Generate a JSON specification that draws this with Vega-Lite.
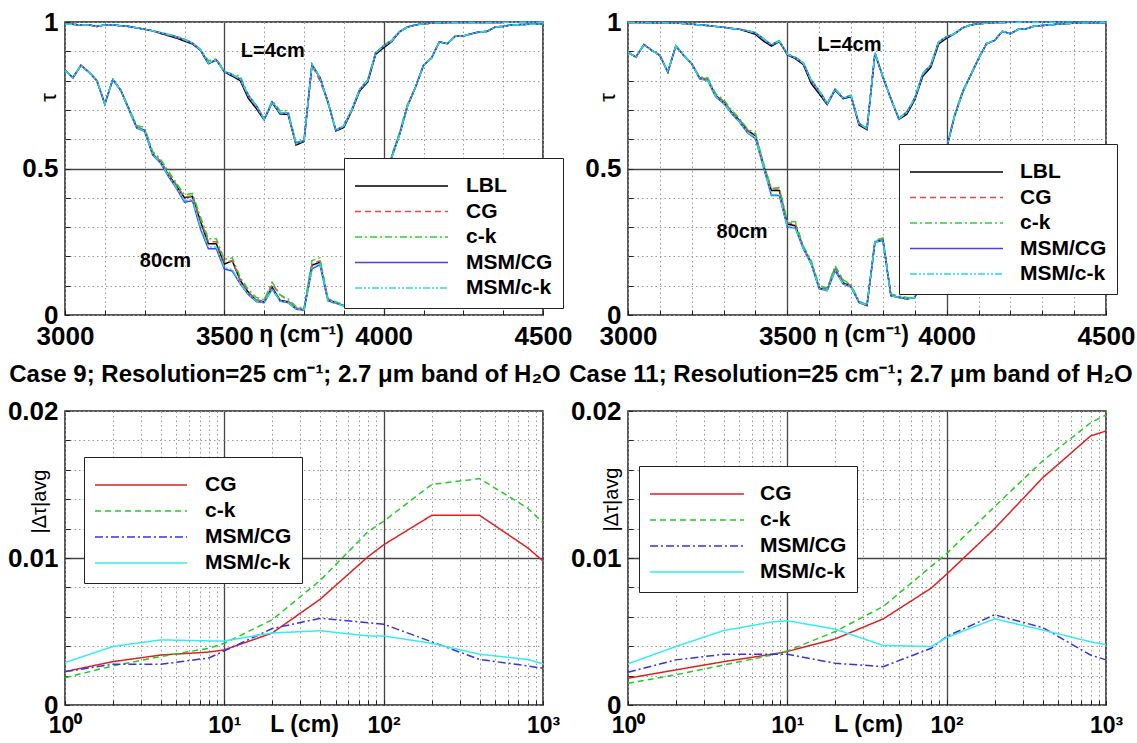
{
"$schema": "https://vega.github.io/schema/vega-lite/v6.json",
"padding": {"left": 6, "top": 8, "right": 0, "bottom": 0},
"background": "white",
"config": {
  "font": "Liberation Sans",
  "view": {"stroke": "#222", "strokeWidth": 1.5},
  "axis": {"domain": false, "grid": true, "labelFont": "Liberation Sans", "labelFontWeight": "bold", "labelFontSize": 26, "labelColor": "black", "labelOverlap": false, "labelFlush": false, "labelBound": false, "tickColor": "#222", "tickSize": -5, "tickWidth": 1, "titleFont": "Liberation Sans", "titleColor": "black", "titleFontSize": 23, "titleFontWeight": "bold", "titlePadding": 0},
  "legend": {"labelFont": "Liberation Sans", "labelFontWeight": "bold", "labelFontSize": 21, "labelColor": "black", "titleFontSize": 8, "titlePadding": 0},
  "title": {"font": "Liberation Sans", "color": "black"}
},
"datasets": {
"ann": [
{"p":"TL","x":3652,"tau":0.901,"t":"L=4cm"},
{"p":"TL","x":3315,"tau":0.184,"t":"80cm"},
{"p":"TR","x":3695,"tau":0.923,"t":"L=4cm"},
{"p":"TR","x":3358,"tau":0.282,"t":"80cm"}
],
"bot": [
{"p":"BL","L":1,"CG":0.00227,"c-k":0.00186,"MSM/CG":0.00227,"MSM/c-k":0.00289},
{"p":"BL","L":2,"CG":0.00295,"c-k":0.00266,"MSM/CG":0.00277,"MSM/c-k":0.00398},
{"p":"BL","L":4,"CG":0.0034,"c-k":0.0033,"MSM/CG":0.00277,"MSM/c-k":0.00443},
{"p":"BL","L":8,"CG":0.0036,"c-k":0.00386,"MSM/CG":0.0032,"MSM/c-k":0.00436},
{"p":"BL","L":10,"CG":0.00375,"c-k":0.0042,"MSM/CG":0.00368,"MSM/c-k":0.00436},
{"p":"BL","L":20,"CG":0.0049,"c-k":0.0058,"MSM/CG":0.0052,"MSM/c-k":0.0049},
{"p":"BL","L":40,"CG":0.0072,"c-k":0.00848,"MSM/CG":0.0059,"MSM/c-k":0.00505},
{"p":"BL","L":80,"CG":0.0101,"c-k":0.0118,"MSM/CG":0.0056,"MSM/c-k":0.0047},
{"p":"BL","L":100,"CG":0.0109,"c-k":0.0125,"MSM/CG":0.0055,"MSM/c-k":0.0047},
{"p":"BL","L":200,"CG":0.0129,"c-k":0.015,"MSM/CG":0.0043,"MSM/c-k":0.0042},
{"p":"BL","L":400,"CG":0.0129,"c-k":0.0154,"MSM/CG":0.0031,"MSM/c-k":0.00345},
{"p":"BL","L":800,"CG":0.0107,"c-k":0.0134,"MSM/CG":0.00266,"MSM/c-k":0.0031},
{"p":"BL","L":1000,"CG":0.0098,"c-k":0.0124,"MSM/CG":0.0025,"MSM/c-k":0.0028},
{"p":"BR","L":1,"CG":0.00182,"c-k":0.00148,"MSM/CG":0.00223,"MSM/c-k":0.0028},
{"p":"BR","L":2,"CG":0.00239,"c-k":0.00205,"MSM/CG":0.00307,"MSM/c-k":0.00398},
{"p":"BR","L":4,"CG":0.00295,"c-k":0.00273,"MSM/CG":0.00345,"MSM/c-k":0.00507},
{"p":"BR","L":8,"CG":0.00345,"c-k":0.0034,"MSM/CG":0.00345,"MSM/c-k":0.00565},
{"p":"BR","L":10,"CG":0.00364,"c-k":0.00368,"MSM/CG":0.00345,"MSM/c-k":0.00573},
{"p":"BR","L":20,"CG":0.0045,"c-k":0.005,"MSM/CG":0.00284,"MSM/c-k":0.00516},
{"p":"BR","L":40,"CG":0.00586,"c-k":0.0067,"MSM/CG":0.00261,"MSM/c-k":0.00405},
{"p":"BR","L":80,"CG":0.00795,"c-k":0.00943,"MSM/CG":0.00386,"MSM/c-k":0.00398},
{"p":"BR","L":100,"CG":0.0089,"c-k":0.0103,"MSM/CG":0.00466,"MSM/c-k":0.00459},
{"p":"BR","L":200,"CG":0.012,"c-k":0.0135,"MSM/CG":0.00614,"MSM/c-k":0.00586},
{"p":"BR","L":400,"CG":0.01545,"c-k":0.0166,"MSM/CG":0.00527,"MSM/c-k":0.0051},
{"p":"BR","L":800,"CG":0.0183,"c-k":0.0192,"MSM/CG":0.0034,"MSM/c-k":0.0043},
{"p":"BR","L":1000,"CG":0.01864,"c-k":0.01973,"MSM/CG":0.00307,"MSM/c-k":0.0041}
],
"top": [
{"p":"TL","c":"4","x":3000,"LBL":0.992,"CG":0.992,"c-k":0.993,"MSM/CG":0.992,"MSM/c-k":0.992},
{"p":"TL","c":"4","x":3025,"LBL":0.992,"CG":0.992,"c-k":0.992,"MSM/CG":0.992,"MSM/c-k":0.992},
{"p":"TL","c":"4","x":3050,"LBL":0.99,"CG":0.99,"c-k":0.99,"MSM/CG":0.99,"MSM/c-k":0.99},
{"p":"TL","c":"4","x":3075,"LBL":0.99,"CG":0.99,"c-k":0.99,"MSM/CG":0.99,"MSM/c-k":0.99},
{"p":"TL","c":"4","x":3100,"LBL":0.985,"CG":0.985,"c-k":0.985,"MSM/CG":0.985,"MSM/c-k":0.985},
{"p":"TL","c":"4","x":3125,"LBL":0.99,"CG":0.99,"c-k":0.99,"MSM/CG":0.99,"MSM/c-k":0.99},
{"p":"TL","c":"4","x":3150,"LBL":0.99,"CG":0.99,"c-k":0.99,"MSM/CG":0.99,"MSM/c-k":0.99},
{"p":"TL","c":"4","x":3175,"LBL":0.987,"CG":0.987,"c-k":0.987,"MSM/CG":0.987,"MSM/c-k":0.987},
{"p":"TL","c":"4","x":3200,"LBL":0.985,"CG":0.985,"c-k":0.985,"MSM/CG":0.985,"MSM/c-k":0.985},
{"p":"TL","c":"4","x":3225,"LBL":0.98,"CG":0.98,"c-k":0.98,"MSM/CG":0.98,"MSM/c-k":0.98},
{"p":"TL","c":"4","x":3250,"LBL":0.975,"CG":0.975,"c-k":0.975,"MSM/CG":0.975,"MSM/c-k":0.975},
{"p":"TL","c":"4","x":3275,"LBL":0.97,"CG":0.97,"c-k":0.97,"MSM/CG":0.97,"MSM/c-k":0.97},
{"p":"TL","c":"4","x":3300,"LBL":0.961,"CG":0.962,"c-k":0.964,"MSM/CG":0.963,"MSM/c-k":0.963},
{"p":"TL","c":"4","x":3325,"LBL":0.953,"CG":0.955,"c-k":0.958,"MSM/CG":0.957,"MSM/c-k":0.957},
{"p":"TL","c":"4","x":3350,"LBL":0.945,"CG":0.948,"c-k":0.951,"MSM/CG":0.95,"MSM/c-k":0.95},
{"p":"TL","c":"4","x":3375,"LBL":0.935,"CG":0.938,"c-k":0.941,"MSM/CG":0.94,"MSM/c-k":0.94},
{"p":"TL","c":"4","x":3400,"LBL":0.925,"CG":0.927,"c-k":0.929,"MSM/CG":0.928,"MSM/c-k":0.928},
{"p":"TL","c":"4","x":3425,"LBL":0.903,"CG":0.905,"c-k":0.907,"MSM/CG":0.905,"MSM/c-k":0.905},
{"p":"TL","c":"4","x":3450,"LBL":0.858,"CG":0.862,"c-k":0.868,"MSM/CG":0.86,"MSM/c-k":0.86},
{"p":"TL","c":"4","x":3475,"LBL":0.87,"CG":0.871,"c-k":0.874,"MSM/CG":0.871,"MSM/c-k":0.871},
{"p":"TL","c":"4","x":3500,"LBL":0.83,"CG":0.831,"c-k":0.833,"MSM/CG":0.831,"MSM/c-k":0.831},
{"p":"TL","c":"4","x":3525,"LBL":0.815,"CG":0.819,"c-k":0.822,"MSM/CG":0.82,"MSM/c-k":0.82},
{"p":"TL","c":"4","x":3550,"LBL":0.8,"CG":0.805,"c-k":0.815,"MSM/CG":0.805,"MSM/c-k":0.805},
{"p":"TL","c":"4","x":3575,"LBL":0.74,"CG":0.748,"c-k":0.752,"MSM/CG":0.75,"MSM/c-k":0.75},
{"p":"TL","c":"4","x":3600,"LBL":0.705,"CG":0.712,"c-k":0.717,"MSM/CG":0.715,"MSM/c-k":0.715},
{"p":"TL","c":"4","x":3625,"LBL":0.666,"CG":0.668,"c-k":0.67,"MSM/CG":0.668,"MSM/c-k":0.668},
{"p":"TL","c":"4","x":3650,"LBL":0.725,"CG":0.727,"c-k":0.732,"MSM/CG":0.727,"MSM/c-k":0.727},
{"p":"TL","c":"4","x":3675,"LBL":0.686,"CG":0.69,"c-k":0.697,"MSM/CG":0.69,"MSM/c-k":0.69},
{"p":"TL","c":"4","x":3700,"LBL":0.685,"CG":0.688,"c-k":0.697,"MSM/CG":0.688,"MSM/c-k":0.688},
{"p":"TL","c":"4","x":3725,"LBL":0.58,"CG":0.585,"c-k":0.588,"MSM/CG":0.585,"MSM/c-k":0.585},
{"p":"TL","c":"4","x":3750,"LBL":0.592,"CG":0.595,"c-k":0.598,"MSM/CG":0.595,"MSM/c-k":0.595},
{"p":"TL","c":"4","x":3775,"LBL":0.853,"CG":0.852,"c-k":0.857,"MSM/CG":0.855,"MSM/c-k":0.855},
{"p":"TL","c":"4","x":3800,"LBL":0.81,"CG":0.8,"c-k":0.812,"MSM/CG":0.81,"MSM/c-k":0.81},
{"p":"TL","c":"4","x":3825,"LBL":0.727,"CG":0.725,"c-k":0.73,"MSM/CG":0.727,"MSM/c-k":0.727},
{"p":"TL","c":"4","x":3850,"LBL":0.628,"CG":0.63,"c-k":0.632,"MSM/CG":0.63,"MSM/c-k":0.63},
{"p":"TL","c":"4","x":3875,"LBL":0.64,"CG":0.645,"c-k":0.647,"MSM/CG":0.645,"MSM/c-k":0.645},
{"p":"TL","c":"4","x":3900,"LBL":0.697,"CG":0.7,"c-k":0.702,"MSM/CG":0.7,"MSM/c-k":0.7},
{"p":"TL","c":"4","x":3925,"LBL":0.765,"CG":0.77,"c-k":0.772,"MSM/CG":0.77,"MSM/c-k":0.77},
{"p":"TL","c":"4","x":3950,"LBL":0.795,"CG":0.8,"c-k":0.803,"MSM/CG":0.8,"MSM/c-k":0.8},
{"p":"TL","c":"4","x":3975,"LBL":0.89,"CG":0.895,"c-k":0.897,"MSM/CG":0.895,"MSM/c-k":0.895},
{"p":"TL","c":"4","x":4000,"LBL":0.912,"CG":0.918,"c-k":0.92,"MSM/CG":0.918,"MSM/c-k":0.918},
{"p":"TL","c":"4","x":4025,"LBL":0.933,"CG":0.94,"c-k":0.937,"MSM/CG":0.935,"MSM/c-k":0.935},
{"p":"TL","c":"4","x":4050,"LBL":0.967,"CG":0.967,"c-k":0.967,"MSM/CG":0.967,"MSM/c-k":0.967},
{"p":"TL","c":"4","x":4075,"LBL":0.983,"CG":0.983,"c-k":0.983,"MSM/CG":0.983,"MSM/c-k":0.983},
{"p":"TL","c":"4","x":4100,"LBL":0.99,"CG":0.99,"c-k":0.99,"MSM/CG":0.99,"MSM/c-k":0.99},
{"p":"TL","c":"4","x":4125,"LBL":0.994,"CG":0.994,"c-k":0.994,"MSM/CG":0.994,"MSM/c-k":0.994},
{"p":"TL","c":"4","x":4150,"LBL":0.996,"CG":0.996,"c-k":0.996,"MSM/CG":0.996,"MSM/c-k":0.996},
{"p":"TL","c":"4","x":4200,"LBL":0.998,"CG":0.998,"c-k":0.998,"MSM/CG":0.998,"MSM/c-k":0.998},
{"p":"TL","c":"4","x":4300,"LBL":0.998,"CG":0.998,"c-k":0.998,"MSM/CG":0.998,"MSM/c-k":0.998},
{"p":"TL","c":"4","x":4400,"LBL":0.999,"CG":0.999,"c-k":0.999,"MSM/CG":0.999,"MSM/c-k":0.999},
{"p":"TL","c":"4","x":4500,"LBL":0.999,"CG":0.999,"c-k":0.999,"MSM/CG":0.999,"MSM/c-k":0.999},
{"p":"TL","c":"80","x":3000,"LBL":0.835,"CG":0.835,"c-k":0.835,"MSM/CG":0.835,"MSM/c-k":0.835},
{"p":"TL","c":"80","x":3025,"LBL":0.81,"CG":0.81,"c-k":0.81,"MSM/CG":0.81,"MSM/c-k":0.81},
{"p":"TL","c":"80","x":3050,"LBL":0.852,"CG":0.852,"c-k":0.852,"MSM/CG":0.852,"MSM/c-k":0.852},
{"p":"TL","c":"80","x":3075,"LBL":0.829,"CG":0.829,"c-k":0.829,"MSM/CG":0.829,"MSM/c-k":0.829},
{"p":"TL","c":"80","x":3100,"LBL":0.8,"CG":0.8,"c-k":0.8,"MSM/CG":0.8,"MSM/c-k":0.8},
{"p":"TL","c":"80","x":3125,"LBL":0.72,"CG":0.72,"c-k":0.72,"MSM/CG":0.72,"MSM/c-k":0.72},
{"p":"TL","c":"80","x":3150,"LBL":0.804,"CG":0.804,"c-k":0.804,"MSM/CG":0.804,"MSM/c-k":0.804},
{"p":"TL","c":"80","x":3175,"LBL":0.767,"CG":0.767,"c-k":0.767,"MSM/CG":0.767,"MSM/c-k":0.767},
{"p":"TL","c":"80","x":3200,"LBL":0.704,"CG":0.706,"c-k":0.708,"MSM/CG":0.702,"MSM/c-k":0.703},
{"p":"TL","c":"80","x":3225,"LBL":0.641,"CG":0.643,"c-k":0.647,"MSM/CG":0.638,"MSM/c-k":0.64},
{"p":"TL","c":"80","x":3250,"LBL":0.63,"CG":0.632,"c-k":0.64,"MSM/CG":0.627,"MSM/c-k":0.628},
{"p":"TL","c":"80","x":3275,"LBL":0.55,"CG":0.553,"c-k":0.558,"MSM/CG":0.546,"MSM/c-k":0.548},
{"p":"TL","c":"80","x":3300,"LBL":0.522,"CG":0.525,"c-k":0.532,"MSM/CG":0.518,"MSM/c-k":0.52},
{"p":"TL","c":"80","x":3325,"LBL":0.478,"CG":0.482,"c-k":0.49,"MSM/CG":0.472,"MSM/c-k":0.475},
{"p":"TL","c":"80","x":3350,"LBL":0.44,"CG":0.444,"c-k":0.45,"MSM/CG":0.432,"MSM/c-k":0.435},
{"p":"TL","c":"80","x":3375,"LBL":0.4,"CG":0.402,"c-k":0.41,"MSM/CG":0.385,"MSM/c-k":0.39},
{"p":"TL","c":"80","x":3400,"LBL":0.405,"CG":0.407,"c-k":0.415,"MSM/CG":0.39,"MSM/c-k":0.395},
{"p":"TL","c":"80","x":3425,"LBL":0.32,"CG":0.325,"c-k":0.335,"MSM/CG":0.294,"MSM/c-k":0.3},
{"p":"TL","c":"80","x":3450,"LBL":0.243,"CG":0.25,"c-k":0.26,"MSM/CG":0.226,"MSM/c-k":0.232},
{"p":"TL","c":"80","x":3475,"LBL":0.243,"CG":0.25,"c-k":0.26,"MSM/CG":0.226,"MSM/c-k":0.232},
{"p":"TL","c":"80","x":3500,"LBL":0.174,"CG":0.18,"c-k":0.19,"MSM/CG":0.157,"MSM/c-k":0.162},
{"p":"TL","c":"80","x":3525,"LBL":0.185,"CG":0.185,"c-k":0.195,"MSM/CG":0.15,"MSM/c-k":0.155},
{"p":"TL","c":"80","x":3550,"LBL":0.118,"CG":0.12,"c-k":0.128,"MSM/CG":0.106,"MSM/c-k":0.108},
{"p":"TL","c":"80","x":3575,"LBL":0.078,"CG":0.08,"c-k":0.088,"MSM/CG":0.07,"MSM/c-k":0.072},
{"p":"TL","c":"80","x":3600,"LBL":0.05,"CG":0.052,"c-k":0.06,"MSM/CG":0.046,"MSM/c-k":0.048},
{"p":"TL","c":"80","x":3625,"LBL":0.045,"CG":0.047,"c-k":0.052,"MSM/CG":0.042,"MSM/c-k":0.043},
{"p":"TL","c":"80","x":3650,"LBL":0.095,"CG":0.105,"c-k":0.112,"MSM/CG":0.089,"MSM/c-k":0.09},
{"p":"TL","c":"80","x":3675,"LBL":0.05,"CG":0.07,"c-k":0.068,"MSM/CG":0.047,"MSM/c-k":0.048},
{"p":"TL","c":"80","x":3700,"LBL":0.045,"CG":0.048,"c-k":0.055,"MSM/CG":0.042,"MSM/c-k":0.043},
{"p":"TL","c":"80","x":3725,"LBL":0.022,"CG":0.024,"c-k":0.03,"MSM/CG":0.02,"MSM/c-k":0.02},
{"p":"TL","c":"80","x":3750,"LBL":0.018,"CG":0.019,"c-k":0.022,"MSM/CG":0.016,"MSM/c-k":0.017},
{"p":"TL","c":"80","x":3775,"LBL":0.17,"CG":0.175,"c-k":0.186,"MSM/CG":0.157,"MSM/c-k":0.16},
{"p":"TL","c":"80","x":3800,"LBL":0.18,"CG":0.185,"c-k":0.195,"MSM/CG":0.172,"MSM/c-k":0.175},
{"p":"TL","c":"80","x":3825,"LBL":0.052,"CG":0.056,"c-k":0.056,"MSM/CG":0.048,"MSM/c-k":0.05},
{"p":"TL","c":"80","x":3850,"LBL":0.042,"CG":0.043,"c-k":0.045,"MSM/CG":0.04,"MSM/c-k":0.041},
{"p":"TL","c":"80","x":3875,"LBL":0.032,"CG":0.033,"c-k":0.035,"MSM/CG":0.031,"MSM/c-k":0.031},
{"p":"TL","c":"80","x":3900,"LBL":0.03,"CG":0.03,"c-k":0.03,"MSM/CG":0.03,"MSM/c-k":0.03},
{"p":"TL","c":"80","x":3925,"LBL":0.06,"CG":0.06,"c-k":0.06,"MSM/CG":0.06,"MSM/c-k":0.06},
{"p":"TL","c":"80","x":3950,"LBL":0.12,"CG":0.12,"c-k":0.12,"MSM/CG":0.12,"MSM/c-k":0.12},
{"p":"TL","c":"80","x":3975,"LBL":0.22,"CG":0.22,"c-k":0.22,"MSM/CG":0.22,"MSM/c-k":0.22},
{"p":"TL","c":"80","x":4000,"LBL":0.35,"CG":0.35,"c-k":0.35,"MSM/CG":0.35,"MSM/c-k":0.35},
{"p":"TL","c":"80","x":4025,"LBL":0.54,"CG":0.54,"c-k":0.545,"MSM/CG":0.535,"MSM/c-k":0.537},
{"p":"TL","c":"80","x":4050,"LBL":0.618,"CG":0.62,"c-k":0.625,"MSM/CG":0.615,"MSM/c-k":0.616},
{"p":"TL","c":"80","x":4075,"LBL":0.715,"CG":0.716,"c-k":0.72,"MSM/CG":0.712,"MSM/c-k":0.713},
{"p":"TL","c":"80","x":4100,"LBL":0.778,"CG":0.778,"c-k":0.778,"MSM/CG":0.778,"MSM/c-k":0.778},
{"p":"TL","c":"80","x":4125,"LBL":0.852,"CG":0.852,"c-k":0.852,"MSM/CG":0.852,"MSM/c-k":0.852},
{"p":"TL","c":"80","x":4150,"LBL":0.877,"CG":0.877,"c-k":0.877,"MSM/CG":0.877,"MSM/c-k":0.877},
{"p":"TL","c":"80","x":4175,"LBL":0.932,"CG":0.932,"c-k":0.932,"MSM/CG":0.932,"MSM/c-k":0.932},
{"p":"TL","c":"80","x":4200,"LBL":0.926,"CG":0.926,"c-k":0.926,"MSM/CG":0.926,"MSM/c-k":0.926},
{"p":"TL","c":"80","x":4225,"LBL":0.952,"CG":0.952,"c-k":0.952,"MSM/CG":0.952,"MSM/c-k":0.952},
{"p":"TL","c":"80","x":4250,"LBL":0.952,"CG":0.952,"c-k":0.952,"MSM/CG":0.952,"MSM/c-k":0.952},
{"p":"TL","c":"80","x":4275,"LBL":0.96,"CG":0.96,"c-k":0.96,"MSM/CG":0.96,"MSM/c-k":0.96},
{"p":"TL","c":"80","x":4300,"LBL":0.966,"CG":0.966,"c-k":0.966,"MSM/CG":0.966,"MSM/c-k":0.966},
{"p":"TL","c":"80","x":4325,"LBL":0.968,"CG":0.968,"c-k":0.968,"MSM/CG":0.968,"MSM/c-k":0.968},
{"p":"TL","c":"80","x":4350,"LBL":0.983,"CG":0.983,"c-k":0.983,"MSM/CG":0.983,"MSM/c-k":0.983},
{"p":"TL","c":"80","x":4375,"LBL":0.985,"CG":0.985,"c-k":0.985,"MSM/CG":0.985,"MSM/c-k":0.985},
{"p":"TL","c":"80","x":4400,"LBL":0.99,"CG":0.99,"c-k":0.99,"MSM/CG":0.99,"MSM/c-k":0.99},
{"p":"TL","c":"80","x":4450,"LBL":0.992,"CG":0.992,"c-k":0.992,"MSM/CG":0.992,"MSM/c-k":0.992},
{"p":"TL","c":"80","x":4500,"LBL":0.993,"CG":0.993,"c-k":0.993,"MSM/CG":0.993,"MSM/c-k":0.993},
{"p":"TR","c":"4","x":3000,"LBL":0.998,"CG":0.998,"c-k":0.998,"MSM/CG":0.998,"MSM/c-k":0.998},
{"p":"TR","c":"4","x":3025,"LBL":0.998,"CG":0.998,"c-k":0.998,"MSM/CG":0.998,"MSM/c-k":0.998},
{"p":"TR","c":"4","x":3050,"LBL":0.998,"CG":0.998,"c-k":0.998,"MSM/CG":0.998,"MSM/c-k":0.998},
{"p":"TR","c":"4","x":3075,"LBL":0.997,"CG":0.997,"c-k":0.997,"MSM/CG":0.997,"MSM/c-k":0.997},
{"p":"TR","c":"4","x":3100,"LBL":0.998,"CG":0.998,"c-k":0.998,"MSM/CG":0.998,"MSM/c-k":0.998},
{"p":"TR","c":"4","x":3125,"LBL":0.997,"CG":0.997,"c-k":0.997,"MSM/CG":0.997,"MSM/c-k":0.997},
{"p":"TR","c":"4","x":3150,"LBL":0.996,"CG":0.996,"c-k":0.996,"MSM/CG":0.996,"MSM/c-k":0.996},
{"p":"TR","c":"4","x":3175,"LBL":0.995,"CG":0.995,"c-k":0.995,"MSM/CG":0.995,"MSM/c-k":0.995},
{"p":"TR","c":"4","x":3200,"LBL":0.993,"CG":0.993,"c-k":0.993,"MSM/CG":0.993,"MSM/c-k":0.993},
{"p":"TR","c":"4","x":3225,"LBL":0.99,"CG":0.99,"c-k":0.99,"MSM/CG":0.99,"MSM/c-k":0.99},
{"p":"TR","c":"4","x":3250,"LBL":0.988,"CG":0.988,"c-k":0.988,"MSM/CG":0.988,"MSM/c-k":0.988},
{"p":"TR","c":"4","x":3275,"LBL":0.985,"CG":0.985,"c-k":0.985,"MSM/CG":0.985,"MSM/c-k":0.985},
{"p":"TR","c":"4","x":3300,"LBL":0.982,"CG":0.982,"c-k":0.982,"MSM/CG":0.982,"MSM/c-k":0.982},
{"p":"TR","c":"4","x":3325,"LBL":0.978,"CG":0.978,"c-k":0.978,"MSM/CG":0.978,"MSM/c-k":0.978},
{"p":"TR","c":"4","x":3350,"LBL":0.975,"CG":0.975,"c-k":0.975,"MSM/CG":0.975,"MSM/c-k":0.975},
{"p":"TR","c":"4","x":3375,"LBL":0.967,"CG":0.97,"c-k":0.97,"MSM/CG":0.97,"MSM/c-k":0.97},
{"p":"TR","c":"4","x":3400,"LBL":0.958,"CG":0.962,"c-k":0.963,"MSM/CG":0.963,"MSM/c-k":0.963},
{"p":"TR","c":"4","x":3425,"LBL":0.935,"CG":0.941,"c-k":0.943,"MSM/CG":0.943,"MSM/c-k":0.943},
{"p":"TR","c":"4","x":3450,"LBL":0.918,"CG":0.922,"c-k":0.924,"MSM/CG":0.922,"MSM/c-k":0.922},
{"p":"TR","c":"4","x":3475,"LBL":0.933,"CG":0.935,"c-k":0.937,"MSM/CG":0.935,"MSM/c-k":0.935},
{"p":"TR","c":"4","x":3500,"LBL":0.888,"CG":0.89,"c-k":0.892,"MSM/CG":0.89,"MSM/c-k":0.89},
{"p":"TR","c":"4","x":3525,"LBL":0.875,"CG":0.878,"c-k":0.88,"MSM/CG":0.878,"MSM/c-k":0.878},
{"p":"TR","c":"4","x":3550,"LBL":0.855,"CG":0.86,"c-k":0.862,"MSM/CG":0.86,"MSM/c-k":0.86},
{"p":"TR","c":"4","x":3575,"LBL":0.79,"CG":0.798,"c-k":0.802,"MSM/CG":0.8,"MSM/c-k":0.8},
{"p":"TR","c":"4","x":3600,"LBL":0.755,"CG":0.762,"c-k":0.767,"MSM/CG":0.765,"MSM/c-k":0.765},
{"p":"TR","c":"4","x":3625,"LBL":0.718,"CG":0.721,"c-k":0.723,"MSM/CG":0.721,"MSM/c-k":0.721},
{"p":"TR","c":"4","x":3650,"LBL":0.768,"CG":0.77,"c-k":0.772,"MSM/CG":0.77,"MSM/c-k":0.77},
{"p":"TR","c":"4","x":3675,"LBL":0.738,"CG":0.74,"c-k":0.742,"MSM/CG":0.74,"MSM/c-k":0.74},
{"p":"TR","c":"4","x":3700,"LBL":0.745,"CG":0.748,"c-k":0.75,"MSM/CG":0.748,"MSM/c-k":0.748},
{"p":"TR","c":"4","x":3725,"LBL":0.648,"CG":0.653,"c-k":0.655,"MSM/CG":0.653,"MSM/c-k":0.653},
{"p":"TR","c":"4","x":3750,"LBL":0.633,"CG":0.636,"c-k":0.638,"MSM/CG":0.636,"MSM/c-k":0.636},
{"p":"TR","c":"4","x":3775,"LBL":0.893,"CG":0.893,"c-k":0.896,"MSM/CG":0.895,"MSM/c-k":0.895},
{"p":"TR","c":"4","x":3800,"LBL":0.812,"CG":0.808,"c-k":0.814,"MSM/CG":0.812,"MSM/c-k":0.812},
{"p":"TR","c":"4","x":3825,"LBL":0.738,"CG":0.738,"c-k":0.738,"MSM/CG":0.738,"MSM/c-k":0.738},
{"p":"TR","c":"4","x":3850,"LBL":0.668,"CG":0.67,"c-k":0.672,"MSM/CG":0.67,"MSM/c-k":0.67},
{"p":"TR","c":"4","x":3875,"LBL":0.685,"CG":0.692,"c-k":0.694,"MSM/CG":0.692,"MSM/c-k":0.692},
{"p":"TR","c":"4","x":3900,"LBL":0.735,"CG":0.74,"c-k":0.742,"MSM/CG":0.74,"MSM/c-k":0.74},
{"p":"TR","c":"4","x":3925,"LBL":0.815,"CG":0.823,"c-k":0.825,"MSM/CG":0.823,"MSM/c-k":0.823},
{"p":"TR","c":"4","x":3950,"LBL":0.845,"CG":0.852,"c-k":0.854,"MSM/CG":0.852,"MSM/c-k":0.852},
{"p":"TR","c":"4","x":3975,"LBL":0.925,"CG":0.932,"c-k":0.934,"MSM/CG":0.932,"MSM/c-k":0.932},
{"p":"TR","c":"4","x":4000,"LBL":0.945,"CG":0.949,"c-k":0.951,"MSM/CG":0.949,"MSM/c-k":0.949},
{"p":"TR","c":"4","x":4025,"LBL":0.96,"CG":0.96,"c-k":0.96,"MSM/CG":0.96,"MSM/c-k":0.96},
{"p":"TR","c":"4","x":4050,"LBL":0.98,"CG":0.98,"c-k":0.98,"MSM/CG":0.98,"MSM/c-k":0.98},
{"p":"TR","c":"4","x":4075,"LBL":0.99,"CG":0.99,"c-k":0.99,"MSM/CG":0.99,"MSM/c-k":0.99},
{"p":"TR","c":"4","x":4100,"LBL":0.994,"CG":0.994,"c-k":0.994,"MSM/CG":0.994,"MSM/c-k":0.994},
{"p":"TR","c":"4","x":4125,"LBL":0.996,"CG":0.996,"c-k":0.996,"MSM/CG":0.996,"MSM/c-k":0.996},
{"p":"TR","c":"4","x":4150,"LBL":0.998,"CG":0.998,"c-k":0.998,"MSM/CG":0.998,"MSM/c-k":0.998},
{"p":"TR","c":"4","x":4200,"LBL":0.999,"CG":0.999,"c-k":0.999,"MSM/CG":0.999,"MSM/c-k":0.999},
{"p":"TR","c":"4","x":4300,"LBL":0.999,"CG":0.999,"c-k":0.999,"MSM/CG":0.999,"MSM/c-k":0.999},
{"p":"TR","c":"4","x":4400,"LBL":0.999,"CG":0.999,"c-k":0.999,"MSM/CG":0.999,"MSM/c-k":0.999},
{"p":"TR","c":"4","x":4500,"LBL":1.0,"CG":1.0,"c-k":1.0,"MSM/CG":1.0,"MSM/c-k":1.0},
{"p":"TR","c":"80","x":3000,"LBL":0.897,"CG":0.897,"c-k":0.897,"MSM/CG":0.897,"MSM/c-k":0.897},
{"p":"TR","c":"80","x":3025,"LBL":0.88,"CG":0.88,"c-k":0.88,"MSM/CG":0.88,"MSM/c-k":0.88},
{"p":"TR","c":"80","x":3050,"LBL":0.923,"CG":0.923,"c-k":0.923,"MSM/CG":0.923,"MSM/c-k":0.923},
{"p":"TR","c":"80","x":3075,"LBL":0.903,"CG":0.903,"c-k":0.903,"MSM/CG":0.903,"MSM/c-k":0.903},
{"p":"TR","c":"80","x":3100,"LBL":0.886,"CG":0.886,"c-k":0.886,"MSM/CG":0.886,"MSM/c-k":0.886},
{"p":"TR","c":"80","x":3125,"LBL":0.829,"CG":0.829,"c-k":0.829,"MSM/CG":0.829,"MSM/c-k":0.829},
{"p":"TR","c":"80","x":3150,"LBL":0.918,"CG":0.918,"c-k":0.918,"MSM/CG":0.918,"MSM/c-k":0.918},
{"p":"TR","c":"80","x":3175,"LBL":0.886,"CG":0.886,"c-k":0.886,"MSM/CG":0.886,"MSM/c-k":0.886},
{"p":"TR","c":"80","x":3200,"LBL":0.858,"CG":0.858,"c-k":0.858,"MSM/CG":0.858,"MSM/c-k":0.858},
{"p":"TR","c":"80","x":3225,"LBL":0.809,"CG":0.81,"c-k":0.812,"MSM/CG":0.806,"MSM/c-k":0.807},
{"p":"TR","c":"80","x":3250,"LBL":0.804,"CG":0.806,"c-k":0.81,"MSM/CG":0.8,"MSM/c-k":0.801},
{"p":"TR","c":"80","x":3275,"LBL":0.749,"CG":0.752,"c-k":0.755,"MSM/CG":0.745,"MSM/c-k":0.746},
{"p":"TR","c":"80","x":3300,"LBL":0.727,"CG":0.73,"c-k":0.735,"MSM/CG":0.722,"MSM/c-k":0.724},
{"p":"TR","c":"80","x":3325,"LBL":0.692,"CG":0.695,"c-k":0.7,"MSM/CG":0.688,"MSM/c-k":0.689},
{"p":"TR","c":"80","x":3350,"LBL":0.664,"CG":0.667,"c-k":0.67,"MSM/CG":0.658,"MSM/c-k":0.66},
{"p":"TR","c":"80","x":3375,"LBL":0.63,"CG":0.632,"c-k":0.635,"MSM/CG":0.622,"MSM/c-k":0.624},
{"p":"TR","c":"80","x":3400,"LBL":0.612,"CG":0.615,"c-k":0.62,"MSM/CG":0.602,"MSM/c-k":0.605},
{"p":"TR","c":"80","x":3425,"LBL":0.512,"CG":0.515,"c-k":0.52,"MSM/CG":0.505,"MSM/c-k":0.508},
{"p":"TR","c":"80","x":3450,"LBL":0.425,"CG":0.43,"c-k":0.432,"MSM/CG":0.408,"MSM/c-k":0.41},
{"p":"TR","c":"80","x":3475,"LBL":0.425,"CG":0.43,"c-k":0.435,"MSM/CG":0.408,"MSM/c-k":0.41},
{"p":"TR","c":"80","x":3500,"LBL":0.31,"CG":0.315,"c-k":0.32,"MSM/CG":0.3,"MSM/c-k":0.302},
{"p":"TR","c":"80","x":3525,"LBL":0.305,"CG":0.312,"c-k":0.318,"MSM/CG":0.297,"MSM/c-k":0.298},
{"p":"TR","c":"80","x":3550,"LBL":0.23,"CG":0.232,"c-k":0.236,"MSM/CG":0.226,"MSM/c-k":0.227},
{"p":"TR","c":"80","x":3575,"LBL":0.178,"CG":0.18,"c-k":0.186,"MSM/CG":0.174,"MSM/c-k":0.175},
{"p":"TR","c":"80","x":3600,"LBL":0.092,"CG":0.095,"c-k":0.1,"MSM/CG":0.089,"MSM/c-k":0.09},
{"p":"TR","c":"80","x":3625,"LBL":0.085,"CG":0.088,"c-k":0.092,"MSM/CG":0.083,"MSM/c-k":0.084},
{"p":"TR","c":"80","x":3650,"LBL":0.155,"CG":0.165,"c-k":0.168,"MSM/CG":0.151,"MSM/c-k":0.152},
{"p":"TR","c":"80","x":3675,"LBL":0.11,"CG":0.118,"c-k":0.12,"MSM/CG":0.106,"MSM/c-k":0.107},
{"p":"TR","c":"80","x":3700,"LBL":0.097,"CG":0.1,"c-k":0.104,"MSM/CG":0.095,"MSM/c-k":0.096},
{"p":"TR","c":"80","x":3725,"LBL":0.043,"CG":0.045,"c-k":0.047,"MSM/CG":0.043,"MSM/c-k":0.043},
{"p":"TR","c":"80","x":3750,"LBL":0.032,"CG":0.034,"c-k":0.035,"MSM/CG":0.034,"MSM/c-k":0.034},
{"p":"TR","c":"80","x":3775,"LBL":0.25,"CG":0.255,"c-k":0.255,"MSM/CG":0.248,"MSM/c-k":0.248},
{"p":"TR","c":"80","x":3800,"LBL":0.256,"CG":0.262,"c-k":0.262,"MSM/CG":0.254,"MSM/c-k":0.254},
{"p":"TR","c":"80","x":3825,"LBL":0.066,"CG":0.07,"c-k":0.072,"MSM/CG":0.066,"MSM/c-k":0.066},
{"p":"TR","c":"80","x":3850,"LBL":0.06,"CG":0.062,"c-k":0.065,"MSM/CG":0.06,"MSM/c-k":0.06},
{"p":"TR","c":"80","x":3875,"LBL":0.055,"CG":0.057,"c-k":0.06,"MSM/CG":0.055,"MSM/c-k":0.055},
{"p":"TR","c":"80","x":3900,"LBL":0.06,"CG":0.06,"c-k":0.06,"MSM/CG":0.06,"MSM/c-k":0.06},
{"p":"TR","c":"80","x":3925,"LBL":0.12,"CG":0.12,"c-k":0.12,"MSM/CG":0.12,"MSM/c-k":0.12},
{"p":"TR","c":"80","x":3950,"LBL":0.22,"CG":0.22,"c-k":0.22,"MSM/CG":0.22,"MSM/c-k":0.22},
{"p":"TR","c":"80","x":3975,"LBL":0.38,"CG":0.38,"c-k":0.38,"MSM/CG":0.38,"MSM/c-k":0.38},
{"p":"TR","c":"80","x":4000,"LBL":0.57,"CG":0.57,"c-k":0.57,"MSM/CG":0.57,"MSM/c-k":0.57},
{"p":"TR","c":"80","x":4025,"LBL":0.681,"CG":0.682,"c-k":0.685,"MSM/CG":0.679,"MSM/c-k":0.68},
{"p":"TR","c":"80","x":4050,"LBL":0.761,"CG":0.762,"c-k":0.765,"MSM/CG":0.758,"MSM/c-k":0.759},
{"p":"TR","c":"80","x":4075,"LBL":0.818,"CG":0.818,"c-k":0.818,"MSM/CG":0.818,"MSM/c-k":0.818},
{"p":"TR","c":"80","x":4100,"LBL":0.875,"CG":0.875,"c-k":0.875,"MSM/CG":0.875,"MSM/c-k":0.875},
{"p":"TR","c":"80","x":4125,"LBL":0.926,"CG":0.926,"c-k":0.926,"MSM/CG":0.926,"MSM/c-k":0.926},
{"p":"TR","c":"80","x":4150,"LBL":0.937,"CG":0.937,"c-k":0.937,"MSM/CG":0.937,"MSM/c-k":0.937},
{"p":"TR","c":"80","x":4175,"LBL":0.968,"CG":0.968,"c-k":0.968,"MSM/CG":0.968,"MSM/c-k":0.968},
{"p":"TR","c":"80","x":4200,"LBL":0.96,"CG":0.96,"c-k":0.96,"MSM/CG":0.96,"MSM/c-k":0.96},
{"p":"TR","c":"80","x":4225,"LBL":0.975,"CG":0.975,"c-k":0.975,"MSM/CG":0.975,"MSM/c-k":0.975},
{"p":"TR","c":"80","x":4250,"LBL":0.977,"CG":0.977,"c-k":0.977,"MSM/CG":0.977,"MSM/c-k":0.977},
{"p":"TR","c":"80","x":4275,"LBL":0.986,"CG":0.986,"c-k":0.986,"MSM/CG":0.986,"MSM/c-k":0.986},
{"p":"TR","c":"80","x":4300,"LBL":0.988,"CG":0.988,"c-k":0.988,"MSM/CG":0.988,"MSM/c-k":0.988},
{"p":"TR","c":"80","x":4325,"LBL":0.99,"CG":0.99,"c-k":0.99,"MSM/CG":0.99,"MSM/c-k":0.99},
{"p":"TR","c":"80","x":4350,"LBL":0.993,"CG":0.993,"c-k":0.993,"MSM/CG":0.993,"MSM/c-k":0.993},
{"p":"TR","c":"80","x":4400,"LBL":0.996,"CG":0.996,"c-k":0.996,"MSM/CG":0.996,"MSM/c-k":0.996},
{"p":"TR","c":"80","x":4450,"LBL":0.997,"CG":0.997,"c-k":0.997,"MSM/CG":0.997,"MSM/c-k":0.997},
{"p":"TR","c":"80","x":4500,"LBL":0.998,"CG":0.998,"c-k":0.998,"MSM/CG":0.998,"MSM/c-k":0.998}
]
},
"columns": 2,
"spacing": {"row": 96, "column": 85},
"bounds": "flush",
"resolve": {"scale": {"color": "independent", "strokeDash": "independent", "x": "independent", "y": "independent"}},
"concat": [
{
  "width": 478, "height": 293,
  "layer": [
    {
      "data": {"name": "top"},
      "transform": [{"filter": "datum.p === 'TL'"}, {"fold": ["LBL", "CG", "c-k", "MSM/CG", "MSM/c-k"], "as": ["s", "tau"]}],
      "mark": {"type": "line", "strokeWidth": 1.5},
      "encoding": {
        "x": {"field": "x", "type": "quantitative", "scale": {"domain": [3000, 4500], "nice": false, "zero": false},
          "axis": {"values": [3000,3125,3250,3375,3500,3625,3750,3875,4000,4125,4250,4375,4500], "tickCount": 100, "format": "d", "labelOverlap": false,
            "labelExpr": "datum.value % 500 === 0 ? datum.label : ''", "labelFontSize": 26, "labelPadding": 13,
            "title": "η (cm⁻¹)", "titleX": 236, "titleY": 19, "titleAlign": "center", "titleBaseline": "middle", "titleAngle": 0,
            "gridColor": {"condition": {"test": "datum.value === 3500 || datum.value === 4000", "value": "#444"}, "value": "#999"},
            "gridDash": {"condition": {"test": "datum.value === 3500 || datum.value === 4000", "value": []}, "value": [1.5, 3]},
            "gridWidth": {"condition": {"test": "datum.value === 3500 || datum.value === 4000", "value": 1.3}, "value": 1}}},
        "y": {"field": "tau", "type": "quantitative", "scale": {"domain": [0, 1], "nice": false},
          "axis": {"values": [0,0.1,0.2,0.3,0.4,0.5,0.6,0.7,0.8,0.9,1], "tickCount": 100, "labelOverlap": false,
            "labelExpr": "datum.value === 0 ? '0' : datum.value === 0.5 ? '0.5' : datum.value === 1 ? '1' : ''", "labelPadding": 12,
            "title": "τ", "titleX": -17, "titleY": 75, "titleAngle": 270, "titleAlign": "center", "titleBaseline": "middle", "titleFontSize": 22, "titleFontWeight": "normal",
            "gridColor": {"condition": {"test": "datum.value === 0.5", "value": "#444"}, "value": "#999"},
            "gridDash": {"condition": {"test": "datum.value === 0.5", "value": []}, "value": [1.5, 3]},
            "gridWidth": {"condition": {"test": "datum.value === 0.5", "value": 1.3}, "value": 1}}},
        "color": {"field": "s", "type": "nominal",
          "scale": {"domain": ["LBL", "CG", "c-k", "MSM/CG", "MSM/c-k"], "range": ["#000000", "#e84848", "#33cc33", "#4444ee", "#22dddd"]},
          "legend": {"orient": "none", "legendX": 279, "legendY": 136, "title": " ", "symbolType": "stroke", "symbolSize": 8649, "symbolStrokeWidth": 1.5, "clipHeight": 20, "rowPadding": 4.5, "labelOffset": 17, "padding": 10, "strokeColor": "#222", "fillColor": "white"}},
        "strokeDash": {"field": "s", "type": "nominal",
          "scale": {"domain": ["LBL", "CG", "c-k", "MSM/CG", "MSM/c-k"], "range": [[1, 0], [6, 4], [7, 3, 2, 3], [1, 0], [7, 2, 2, 2, 2, 2]]},
          "legend": {"orient": "none", "legendX": 279, "legendY": 136, "title": " ", "symbolType": "stroke", "symbolSize": 8649, "symbolStrokeWidth": 1.5, "clipHeight": 20, "rowPadding": 4.5, "labelOffset": 17, "padding": 10, "strokeColor": "#222", "fillColor": "white"}},
        "detail": {"field": "c", "type": "nominal"}
      }
    },
    {
      "data": {"name": "ann"},
      "transform": [{"filter": "datum.p === 'TL'"}],
      "mark": {"type": "text", "font": "Liberation Sans", "fontWeight": "bold", "fontSize": 20, "align": "center", "baseline": "middle", "color": "black"},
      "encoding": {"x": {"field": "x", "type": "quantitative"}, "y": {"field": "tau", "type": "quantitative"}, "text": {"field": "t"}}
    }
  ]
},
{
  "width": 478, "height": 293,
  "layer": [
    {
      "data": {"name": "top"},
      "transform": [{"filter": "datum.p === 'TR'"}, {"fold": ["LBL", "CG", "c-k", "MSM/CG", "MSM/c-k"], "as": ["s", "tau"]}],
      "mark": {"type": "line", "strokeWidth": 1.5},
      "encoding": {
        "x": {"field": "x", "type": "quantitative", "scale": {"domain": [3000, 4500], "nice": false, "zero": false},
          "axis": {"values": [3000,3100,3200,3300,3400,3500,3600,3700,3800,3900,4000,4100,4200,4300,4400,4500], "tickCount": 100, "format": "d", "labelOverlap": false,
            "labelExpr": "datum.value % 500 === 0 ? datum.label : ''", "labelFontSize": 26, "labelPadding": 13,
            "title": "η (cm⁻¹)", "titleX": 238, "titleY": 19, "titleAlign": "center", "titleBaseline": "middle", "titleAngle": 0,
            "gridColor": {"condition": {"test": "datum.value === 3500 || datum.value === 4000", "value": "#444"}, "value": "#999"},
            "gridDash": {"condition": {"test": "datum.value === 3500 || datum.value === 4000", "value": []}, "value": [1.5, 3]},
            "gridWidth": {"condition": {"test": "datum.value === 3500 || datum.value === 4000", "value": 1.3}, "value": 1}}},
        "y": {"field": "tau", "type": "quantitative", "scale": {"domain": [0, 1], "nice": false},
          "axis": {"values": [0,0.1,0.2,0.3,0.4,0.5,0.6,0.7,0.8,0.9,1], "tickCount": 100, "labelOverlap": false,
            "labelExpr": "datum.value === 0 ? '0' : datum.value === 0.5 ? '0.5' : datum.value === 1 ? '1' : ''", "labelPadding": 12,
            "title": "τ", "titleX": -21, "titleY": 75, "titleAngle": 270, "titleAlign": "center", "titleBaseline": "middle", "titleFontSize": 22, "titleFontWeight": "normal",
            "gridColor": {"condition": {"test": "datum.value === 0.5", "value": "#444"}, "value": "#999"},
            "gridDash": {"condition": {"test": "datum.value === 0.5", "value": []}, "value": [1.5, 3]},
            "gridWidth": {"condition": {"test": "datum.value === 0.5", "value": 1.3}, "value": 1}}},
        "color": {"field": "s", "type": "nominal",
          "scale": {"domain": ["LBL", "CG", "c-k", "MSM/CG", "MSM/c-k"], "range": ["#000000", "#e84848", "#33cc33", "#4444ee", "#22dddd"]},
          "legend": {"orient": "none", "legendX": 271, "legendY": 122, "title": " ", "symbolType": "stroke", "symbolSize": 8649, "symbolStrokeWidth": 1.5, "clipHeight": 20, "rowPadding": 4.5, "labelOffset": 16, "padding": 10, "strokeColor": "#222", "fillColor": "white"}},
        "strokeDash": {"field": "s", "type": "nominal",
          "scale": {"domain": ["LBL", "CG", "c-k", "MSM/CG", "MSM/c-k"], "range": [[1, 0], [6, 4], [7, 3, 2, 3], [1, 0], [7, 2, 2, 2, 2, 2]]},
          "legend": {"orient": "none", "legendX": 271, "legendY": 122, "title": " ", "symbolType": "stroke", "symbolSize": 8649, "symbolStrokeWidth": 1.5, "clipHeight": 20, "rowPadding": 4.5, "labelOffset": 16, "padding": 10, "strokeColor": "#222", "fillColor": "white"}},
        "detail": {"field": "c", "type": "nominal"}
      }
    },
    {
      "data": {"name": "ann"},
      "transform": [{"filter": "datum.p === 'TR'"}],
      "mark": {"type": "text", "font": "Liberation Sans", "fontWeight": "bold", "fontSize": 20, "align": "center", "baseline": "middle", "color": "black"},
      "encoding": {"x": {"field": "x", "type": "quantitative"}, "y": {"field": "tau", "type": "quantitative"}, "text": {"field": "t"}}
    }
  ]
},
{
  "width": 478, "height": 294,
  "title": {"text": "Case 9; Resolution=25 cm⁻¹; 2.7 μm band of H₂O", "anchor": "middle", "frame": "group", "dx": -19, "offset": -8, "fontSize": 24, "fontWeight": "bold", "baseline": "alphabetic"},
  "data": {"name": "bot"},
  "transform": [{"filter": "datum.p === 'BL'"}, {"fold": ["CG", "c-k", "MSM/CG", "MSM/c-k"], "as": ["s", "v"]}],
  "mark": {"type": "line", "strokeWidth": 1.5},
  "encoding": {
    "x": {"field": "L", "type": "quantitative", "scale": {"type": "log", "domain": [1, 1000], "nice": false},
      "axis": {"values": [1,2,3,4,5,6,7,8,9,10,20,30,40,50,60,70,80,90,100,200,300,400,500,600,700,800,900,1000], "tickCount": 100, "labelOverlap": false,
        "labelExpr": "datum.value === 1 ? '10⁰' : datum.value === 10 ? '10¹' : datum.value === 100 ? '10²' : datum.value === 1000 ? '10³' : ''",
        "labelFontSize": 23, "labelPadding": 14,
        "title": "L (cm)", "titleX": 239, "titleY": 19, "titleAlign": "center", "titleBaseline": "middle", "titleAngle": 0,
        "gridColor": {"condition": {"test": "datum.value === 10 || datum.value === 100", "value": "#444"}, "value": "#999"},
        "gridDash": {"condition": {"test": "datum.value === 10 || datum.value === 100", "value": []}, "value": [1.5, 3]},
        "gridWidth": {"condition": {"test": "datum.value === 10 || datum.value === 100", "value": 1.3}, "value": 1}}},
    "y": {"field": "v", "type": "quantitative", "scale": {"domain": [0, 0.02], "nice": false},
      "axis": {"values": [0,0.002,0.004,0.006,0.008,0.01,0.012,0.014,0.016,0.018,0.02], "tickCount": 100, "labelOverlap": false,
        "labelExpr": "datum.value === 0 ? '0' : datum.value === 0.01 ? '0.01' : datum.value === 0.02 ? '0.02' : ''", "labelPadding": 12,
        "title": "|Δτ|avg", "titleX": -26, "titleY": 90, "titleAngle": 270, "titleAlign": "center", "titleBaseline": "middle", "titleFontSize": 20, "titleFontWeight": "normal",
        "gridColor": {"condition": {"test": "datum.value === 0.01", "value": "#444"}, "value": "#999"},
        "gridDash": {"condition": {"test": "datum.value === 0.01", "value": []}, "value": [1.5, 3]},
        "gridWidth": {"condition": {"test": "datum.value === 0.01", "value": 1.3}, "value": 1}}},
    "color": {"field": "s", "type": "nominal",
      "scale": {"domain": ["CG", "c-k", "MSM/CG", "MSM/c-k"], "range": ["#e02020", "#22cc22", "#3333ee", "#33eeee"]},
      "legend": {"orient": "none", "legendX": 19, "legendY": 46, "title": " ", "symbolType": "stroke", "symbolSize": 8464, "symbolStrokeWidth": 1.5, "clipHeight": 20, "rowPadding": 5, "labelOffset": 17, "padding": 10, "strokeColor": "#222", "fillColor": "white"}},
    "strokeDash": {"field": "s", "type": "nominal",
      "scale": {"domain": ["CG", "c-k", "MSM/CG", "MSM/c-k"], "range": [[1, 0], [6, 4], [8, 3, 2, 3], [1, 0]]},
      "legend": {"orient": "none", "legendX": 19, "legendY": 46, "title": " ", "symbolType": "stroke", "symbolSize": 8464, "symbolStrokeWidth": 1.5, "clipHeight": 20, "rowPadding": 5, "labelOffset": 17, "padding": 10, "strokeColor": "#222", "fillColor": "white"}}
  }
},
{
  "width": 478, "height": 294,
  "title": {"text": "Case 11; Resolution=25 cm⁻¹; 2.7 μm band of H₂O", "anchor": "middle", "frame": "group", "dx": -16, "offset": -8, "fontSize": 24, "fontWeight": "bold", "baseline": "alphabetic"},
  "data": {"name": "bot"},
  "transform": [{"filter": "datum.p === 'BR'"}, {"fold": ["CG", "c-k", "MSM/CG", "MSM/c-k"], "as": ["s", "v"]}],
  "mark": {"type": "line", "strokeWidth": 1.5},
  "encoding": {
    "x": {"field": "L", "type": "quantitative", "scale": {"type": "log", "domain": [1, 1000], "nice": false},
      "axis": {"values": [1,2,3,4,5,6,7,8,9,10,20,30,40,50,60,70,80,90,100,200,300,400,500,600,700,800,900,1000], "tickCount": 100, "labelOverlap": false,
        "labelExpr": "datum.value === 1 ? '10⁰' : datum.value === 10 ? '10¹' : datum.value === 100 ? '10²' : datum.value === 1000 ? '10³' : ''",
        "labelFontSize": 23, "labelPadding": 14,
        "title": "L (cm)", "titleX": 240, "titleY": 19, "titleAlign": "center", "titleBaseline": "middle", "titleAngle": 0,
        "gridColor": {"condition": {"test": "datum.value === 10 || datum.value === 100", "value": "#444"}, "value": "#999"},
        "gridDash": {"condition": {"test": "datum.value === 10 || datum.value === 100", "value": []}, "value": [1.5, 3]},
        "gridWidth": {"condition": {"test": "datum.value === 10 || datum.value === 100", "value": 1.3}, "value": 1}}},
    "y": {"field": "v", "type": "quantitative", "scale": {"domain": [0, 0.02], "nice": false},
      "axis": {"values": [0,0.002,0.004,0.006,0.008,0.01,0.012,0.014,0.016,0.018,0.02], "tickCount": 100, "labelOverlap": false,
        "labelExpr": "datum.value === 0 ? '0' : datum.value === 0.01 ? '0.01' : datum.value === 0.02 ? '0.02' : ''", "labelPadding": 12,
        "title": "|Δτ|avg", "titleX": -17, "titleY": 88, "titleAngle": 270, "titleAlign": "center", "titleBaseline": "middle", "titleFontSize": 20, "titleFontWeight": "normal",
        "gridColor": {"condition": {"test": "datum.value === 0.01", "value": "#444"}, "value": "#999"},
        "gridDash": {"condition": {"test": "datum.value === 0.01", "value": []}, "value": [1.5, 3]},
        "gridWidth": {"condition": {"test": "datum.value === 0.01", "value": 1.3}, "value": 1}}},
    "color": {"field": "s", "type": "nominal",
      "scale": {"domain": ["CG", "c-k", "MSM/CG", "MSM/c-k"], "range": ["#e02020", "#22cc22", "#3333ee", "#33eeee"]},
      "legend": {"orient": "none", "legendX": 11, "legendY": 55, "title": " ", "symbolType": "stroke", "symbolSize": 8836, "symbolStrokeWidth": 1.5, "clipHeight": 20, "rowPadding": 5, "labelOffset": 15, "padding": 10, "strokeColor": "#222", "fillColor": "white"}},
    "strokeDash": {"field": "s", "type": "nominal",
      "scale": {"domain": ["CG", "c-k", "MSM/CG", "MSM/c-k"], "range": [[1, 0], [6, 4], [8, 3, 2, 3], [1, 0]]},
      "legend": {"orient": "none", "legendX": 11, "legendY": 55, "title": " ", "symbolType": "stroke", "symbolSize": 8836, "symbolStrokeWidth": 1.5, "clipHeight": 20, "rowPadding": 5, "labelOffset": 15, "padding": 10, "strokeColor": "#222", "fillColor": "white"}}
  }
}
]
}
